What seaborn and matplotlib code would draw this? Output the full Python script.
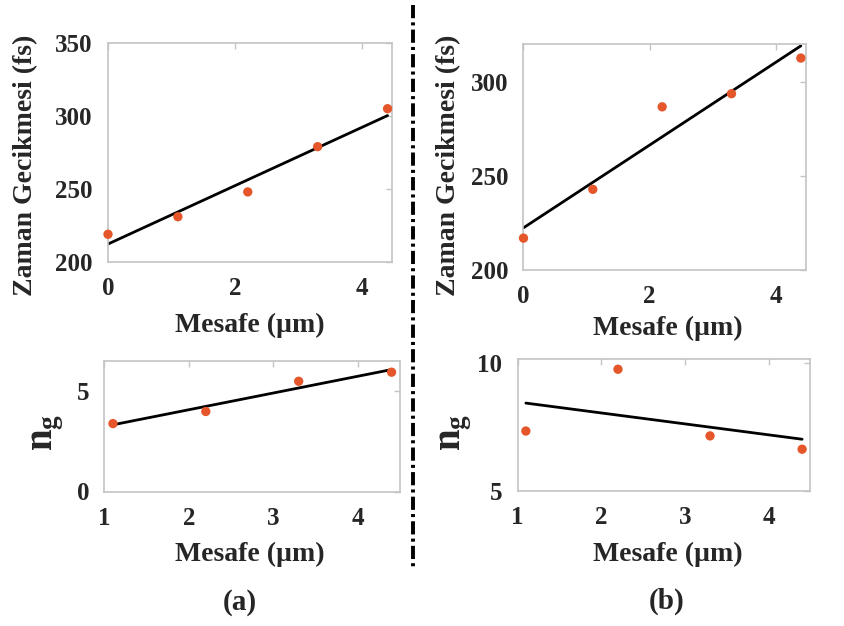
import matplotlib
matplotlib.use("Agg")
import matplotlib.pyplot as plt
import seaborn as sns
import pandas as pd
from matplotlib.lines import Line2D

# ---------------- data ----------------
dist_top = [0.0, 1.1, 2.2, 3.3, 4.4]
delay_a = [219, 231, 248, 279, 305]
delay_b = [217, 243, 287, 294, 313]
fit_top_x = [0.0, 4.4]
fit_delay_a = [212.3, 300.3]
fit_delay_b = [222.5, 319.5]

dist_bot = [1.1, 2.2, 3.3, 4.4]
ng_a = [3.37, 3.97, 5.47, 5.92]
ng_b = [7.34, 9.75, 7.15, 6.63]
fit_bot_x = [1.1, 4.4]
fit_ng_a = [3.31, 6.05]
fit_ng_b = [8.43, 7.02]

xlabel = "Mesafe (µm)"
ylabel_top = "Zaman Gecikmesi (fs)"
ylabel_bot = r"$\mathbf{n_g}$"
panel_labels = ["(a)", "(b)"]

# ---------------- style ----------------
sns.set_style("white")
plt.rcParams["font.family"] = ["Liberation Serif", "DejaVu Serif"]
plt.rcParams["font.weight"] = "bold"
plt.rcParams["mathtext.fontset"] = "custom"
plt.rcParams["mathtext.bf"] = "Liberation Serif:bold"
plt.rcParams["mathtext.rm"] = "Liberation Serif:bold"
plt.rcParams["mathtext.it"] = "Liberation Serif:bold"
plt.rcParams["lines.scale_dashes"] = False

W, H = 845, 626
fig = plt.figure(figsize=(W / 100, H / 100), dpi=100)

def px_rect(left, right, top, bottom):
    return [left / W, 1 - bottom / H, (right - left) / W, (bottom - top) / H]

DOT = "#E5572A"
SPINE = "#c4c4c4"

def panel(rect, x, y, fx, fy, xlim, ylim, xticks, yticks, ylab, ylab_size,
          ylab_xy, xlab_xy):
    ax = fig.add_axes(rect)
    df = pd.DataFrame({"x": x, "y": y})
    dfit = pd.DataFrame({"x": fx, "y": fy})
    sns.lineplot(data=dfit, x="x", y="y", ax=ax, color="black", lw=2.0,
                 zorder=2)
    sns.scatterplot(data=df, x="x", y="y", ax=ax, color=DOT, s=45,
                    edgecolor="none", zorder=3, clip_on=False)
    ax.set_xlim(*xlim)
    ax.set_ylim(*ylim)
    ax.set_xticks(xticks)
    ax.set_yticks(yticks)
    for s in ax.spines.values():
        s.set_color(SPINE)
        s.set_linewidth(1.2)
        s.set_visible(True)
    ax.tick_params(direction="in", length=4, width=1, color=SPINE,
                   top=True, right=True, labelsize=18, pad=11)
    for t in ax.get_xticklabels() + ax.get_yticklabels():
        t.set_fontweight("bold")
    ax.set_xlabel(xlabel, fontsize=20, fontweight="bold")
    ax.set_ylabel(ylab, fontsize=ylab_size, fontweight="bold")
    ax.xaxis.set_label_coords(xlab_xy[0] / W, 1 - xlab_xy[1] / H,
                              transform=fig.transFigure)
    ax.yaxis.set_label_coords(ylab_xy[0] / W, 1 - ylab_xy[1] / H,
                              transform=fig.transFigure)
    return ax

# top-left
panel(px_rect(108, 392, 43, 262), dist_top, delay_a, fit_top_x, fit_delay_a,
      (0, 4.47), (200, 350), [0, 2, 4], [200, 250, 300, 350],
      ylabel_top, 20, (38, 165), (250, 313))
# top-right
panel(px_rect(523.5, 806.5, 44, 270), dist_top, delay_b, fit_top_x, fit_delay_b,
      (0, 4.49), (200, 320.5), [0, 2, 4], [200, 250, 300],
      ylabel_top, 20, (461, 165), (668, 316))
# bottom-left
panel(px_rect(104.5, 400, 360.5, 491.5), dist_bot, ng_a, fit_bot_x, fit_ng_a,
      (1, 4.5), (0, 6.5), [1, 2, 3, 4], [0, 5],
      ylabel_bot, 28, (66, 432), (250, 542))
# bottom-right
panel(px_rect(517.5, 810.5, 359, 491), dist_bot, ng_b, fit_bot_x, fit_ng_b,
      (1, 4.5), (5, 10.15), [1, 2, 3, 4], [5, 10],
      ylabel_bot, 28, (474, 432), (668, 542))

# panel labels
fig.text(240 / W, 1 - 603 / H, panel_labels[0], ha="center", va="center",
         fontsize=21, fontweight="bold")
fig.text(667 / W, 1 - 601 / H, panel_labels[1], ha="center", va="center",
         fontsize=21, fontweight="bold")

# dash-dot divider
fig.add_artist(Line2D([413 / W, 413 / W], [1 - 5 / H, 1 - 570 / H],
                      transform=fig.transFigure, color="black", lw=2.8,
                      linestyle=(0, (9.5, 3.0, 2.2, 3.0)),
                      solid_capstyle="butt", dash_capstyle="butt"))

fig.savefig("out.png", dpi=100)
